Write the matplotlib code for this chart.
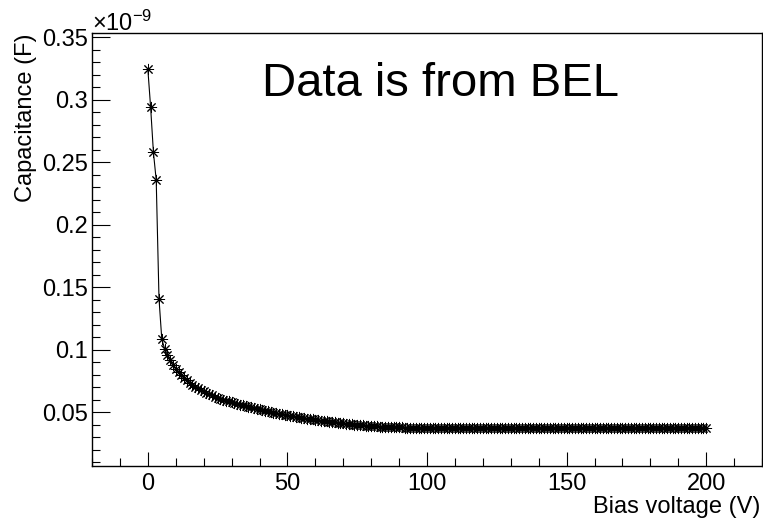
import matplotlib
matplotlib.use("Agg")
import matplotlib.pyplot as plt
from matplotlib.ticker import MultipleLocator, FuncFormatter

plt.rcParams['font.family'] = ['Liberation Sans', 'DejaVu Sans']
plt.rcParams['mathtext.fontset'] = 'custom'
plt.rcParams['mathtext.rm'] = 'Liberation Sans'
plt.rcParams['mathtext.it'] = 'Liberation Sans'

# C-V scan, 1 V steps
bias_v = list(range(0, 201))
cap_nf = [
    0.3246, 0.2940, 0.2580, 0.2358, 0.1409, 0.1085, 0.1010, 0.0960, 0.0915, 0.0878,
    0.0848, 0.0820, 0.0796, 0.0775, 0.0755, 0.0737, 0.0721, 0.0706, 0.0692, 0.0679,
    0.0667, 0.0656, 0.0645, 0.0635, 0.0626, 0.0617, 0.0609, 0.0601, 0.0594, 0.0587,
    0.0580, 0.0574, 0.0568, 0.0562, 0.0556, 0.0551, 0.0546, 0.0541, 0.0535, 0.0530,
    0.0524, 0.0519, 0.0513, 0.0508, 0.0503, 0.0498, 0.0493, 0.0488, 0.0484, 0.0480,
    0.0476, 0.0472, 0.0468, 0.0464, 0.0460, 0.0457, 0.0453, 0.0450, 0.0446, 0.0443,
    0.0440, 0.0437, 0.0434, 0.0431, 0.0428, 0.0425, 0.0422, 0.0419, 0.0416, 0.0413,
    0.0411, 0.0408, 0.0406, 0.0404, 0.0402, 0.0400, 0.0398, 0.0396, 0.0394, 0.0392,
    0.0390, 0.0389, 0.0388, 0.0386, 0.0385, 0.0384, 0.0383, 0.0382, 0.0381, 0.0380,
    0.0379, 0.0379, 0.0378, 0.0378, 0.0377, 0.0378, 0.0376, 0.0377, 0.0376, 0.0377,
    0.0376, 0.0375, 0.0377, 0.0376, 0.0375, 0.0377, 0.0374, 0.0376, 0.0377, 0.0375,
    0.0376, 0.0374, 0.0377, 0.0375, 0.0376, 0.0378, 0.0374, 0.0376, 0.0375, 0.0377,
    0.0375, 0.0376, 0.0374, 0.0377, 0.0376, 0.0375, 0.0377, 0.0374, 0.0376, 0.0375,
    0.0376, 0.0377, 0.0374, 0.0375, 0.0376, 0.0374, 0.0377, 0.0375, 0.0376, 0.0374,
    0.0375, 0.0377, 0.0374, 0.0376, 0.0375, 0.0374, 0.0376, 0.0375, 0.0373, 0.0375,
    0.0374, 0.0376, 0.0373, 0.0375, 0.0374, 0.0376, 0.0374, 0.0373, 0.0375, 0.0377,
    0.0375, 0.0377, 0.0374, 0.0376, 0.0378, 0.0375, 0.0377, 0.0376, 0.0374, 0.0377,
    0.0375, 0.0376, 0.0378, 0.0375, 0.0377, 0.0374, 0.0376, 0.0377, 0.0375, 0.0376,
    0.0374, 0.0377, 0.0375, 0.0376, 0.0378, 0.0375, 0.0376, 0.0374, 0.0377, 0.0375,
    0.0376, 0.0377, 0.0375, 0.0374, 0.0376, 0.0377, 0.0375, 0.0376, 0.0374, 0.0376,
    0.0375,
]
assert len(cap_nf) == len(bias_v)
cap_f = [c * 1e-9 for c in cap_nf]

fig = plt.figure(figsize=(7.63, 5.20), dpi=100)
ax = fig.add_axes([92 / 763, 54 / 520, 670 / 763, 433 / 520])

# thin line plus ROOT-style asterisk markers
ax.plot(bias_v, cap_f, color='black', linewidth=0.8,
        marker=(8, 2, 0), markersize=8, markeredgewidth=0.7,
        markeredgecolor='black')

ax.set_xlim(-20, 220)
ax.set_ylim(0.0071e-9, 0.3534e-9)

ax.xaxis.set_major_locator(MultipleLocator(50))
ax.xaxis.set_minor_locator(MultipleLocator(10))
ax.yaxis.set_major_locator(MultipleLocator(0.05e-9))
ax.yaxis.set_minor_locator(MultipleLocator(0.01e-9))
ax.yaxis.set_major_formatter(
    FuncFormatter(lambda v, p: f"{v * 1e9:.2f}".rstrip('0').rstrip('.')))
ax.yaxis.get_offset_text().set_visible(False)
ax.xaxis.get_offset_text().set_visible(False)

ax.tick_params(axis='both', which='both', direction='in', width=0.8,
               colors='black', labelsize=17)
ax.tick_params(axis='x', which='major', length=10, pad=5)
ax.tick_params(axis='x', which='minor', length=5.5)
ax.tick_params(axis='y', which='major', length=13, pad=3)
ax.tick_params(axis='y', which='minor', length=6)
for s in ax.spines.values():
    s.set_linewidth(1.0)

# exponent above the y axis
fig.text(92 / 763, (520 - 31) / 520, "×10$^{-9}$", fontsize=17,
         ha='left', va='baseline')

# axis titles, aligned to the axis ends
fig.text(760 / 763, (520 - 513) / 520, "Bias voltage (V)", fontsize=17,
         ha='right', va='baseline')
fig.text(26 / 763, (520 - 34) / 520, "Capacitance (F)", fontsize=17,
         rotation=90, ha='center', va='top')

fig.text(262 / 763, (520 - 96) / 520, "Data is from BEL", fontsize=34,
         ha='left', va='baseline')

fig.savefig("out.png", dpi=100)
